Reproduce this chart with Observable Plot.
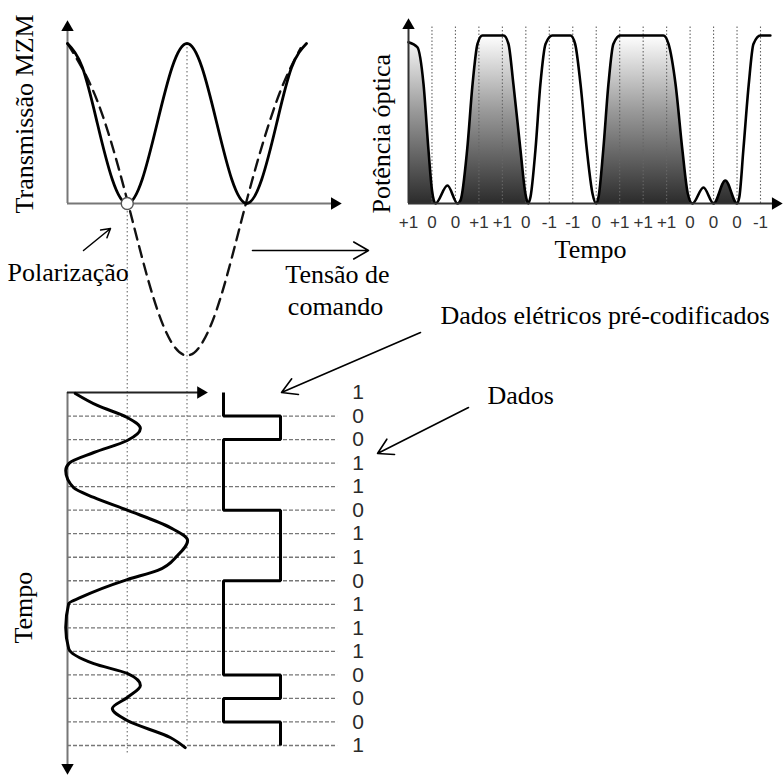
<!DOCTYPE html>
<html>
<head>
<meta charset="utf-8">
<script src="https://cdn.jsdelivr.net/npm/d3@7"></script>
<script src="https://cdn.jsdelivr.net/npm/@observablehq/plot@0.6"></script>
<style>
  html, body { margin: 0; padding: 0; background: #fff; }
  #wrap { width: 784px; height: 776px; overflow: hidden; background: #fff; }
</style>
</head>
<body>
<div id="wrap"></div>
<script>
// ---------------- DATA ----------------
// MZM transfer function (voltage in units of V_pi, normalized transmission)
const mzmVoltage      = [0, 0.25, 0.5, 0.75, 1, 1.25, 1.5, 1.75, 2, 2.25, 2.5, 2.75, 3, 3.25, 3.5, 3.75, 4];
const mzmTransmission = [1, 0.85, 0.5, 0.15, 0, 0.15, 0.5, 0.85, 1, 0.85, 0.5, 0.15, 0, 0.15, 0.5, 0.85, 1];
// dashed drive-swing curve
const swingVoltage = [0, 0.5, 1, 1.5, 2, 2.5, 3, 3.5, 3.9];
const swingLevel   = [1, 0.64, 0.02, -0.66, -0.95, -0.66, 0.02, 0.64, 0.97];
const biasVoltage = 1;
const peakVoltage = 2;

// Electrical drive signal (vertical, time in bit periods)
const driveTime    = [0.04, 0.55, 1.06, 1.53, 2.04, 2.55, 3.0, 3.31, 4.04, 4.46, 5.0, 5.74, 6.29, 6.93, 7.56, 7.95, 8.71, 8.97, 9.99, 10.88, 11.52, 11.94, 12.45, 12.96, 13.43, 13.94, 14.66, 15.09];
const driveVoltage = [0.13, 0.5, 1.0, 1.22, 1.0, 0.44, 0.03, -0.03, 0.1, 0.44, 1.0, 1.72, 2.01, 1.84, 1.51, 1.0, 0.22, 0.02, -0.03, 0.02, 0.44, 1.0, 1.22, 1.0, 0.75, 1.0, 1.72, 1.97];

// Precoded electrical data (one level per bit interval)
const precodedBits = [0, 1, 0, 0, 0, 1, 1, 1, 0, 0, 0, 0, 1, 0, 1];
// Data bits
const dataBits = ["1", "0", "0", "1", "1", "0", "1", "1", "0", "1", "1", "1", "0", "0", "0", "1"];
// Duobinary optical symbols
const duobinaryLabels = ["+1", "0", "0", "+1", "+1", "0", "-1", "-1", "0", "+1", "+1", "+1", "0", "0", "0", "-1"];

// Optical power waveform
const opticalTime  = [0, 0.38, 0.64, 0.85, 1.0, 1.15, 1.66, 2.09, 2.22, 2.5, 2.73, 2.94, 3.15, 4.05, 4.26, 4.47, 4.77, 4.98, 5.1, 5.2, 5.41, 5.62, 5.84, 6.13, 6.9, 7.1, 7.33, 7.6, 7.84, 8.0, 8.1, 8.3, 8.52, 8.73, 9.03, 10.86, 11.08, 11.38, 11.67, 11.9, 12.1, 12.57, 13.0, 13.5, 14.0, 14.1, 14.27, 14.5, 14.7, 15.0, 15.42];
const opticalPower = [0.96, 0.93, 0.71, 0.32, 0.08, 0, 0.107, 0, 0.02, 0.32, 0.71, 0.95, 1, 1, 0.95, 0.71, 0.32, 0.06, 0, 0.04, 0.32, 0.71, 0.95, 1, 1, 0.95, 0.71, 0.32, 0.06, 0, 0.04, 0.32, 0.71, 0.95, 1, 1, 0.95, 0.71, 0.32, 0.06, 0, 0.095, 0, 0.137, 0, 0.04, 0.32, 0.71, 0.95, 1, 1];
const opticalFilled = [1, 1, 1, 1, 1, 1, 0, 0, 1, 1, 1, 1, 1, 1, 1, 1, 1, 1, 1, 0, 0, 0, 0, 0, 0, 0, 0, 0, 0, 0, 1, 1, 1, 1, 1, 1, 1, 1, 1, 1, 1, 0, 0, 1, 1, 0, 0, 0, 0, 0, 0];
const bitBoundaries = d3.range(1, 16);

// ---------------- LAYOUT HELPERS ----------------
const W = 784, H = 776;
const wrap = document.getElementById("wrap");
const SERIF = "Liberation Serif, Times New Roman, serif";
const SANS = "Liberation Sans, Arial, sans-serif";
function panel(opts) {
  return Plot.plot({
    width: W, height: H, margin: 0,
    style: {background: "transparent", overflow: "visible"},
    ...opts
  });
}
const xVolt = {domain: [0, 4], range: [67, 306], axis: null};
const yTime = {domain: [0, 15], range: [392, 745], axis: null};

// ---------------- PANEL B : optical power ----------------
const optical = opticalTime.map((t, i) => ({t, P: opticalPower[i], fill: opticalFilled[i]}));
const svgB = panel({
  x: {domain: [0, 15], range: [408, 760], axis: null},
  y: {domain: [0, 1], range: [203, 35], axis: null},
  marks: [
    Plot.areaY(optical, {x: "t", y: d => d.fill ? d.P : 0, curve: "monotone-x", fill: "url(#duoGrad)"}),
    Plot.ruleX(bitBoundaries, {y1: 0, y2: 1.05, stroke: "#666", strokeDasharray: "1.5,2", strokeWidth: 1.1}),
    Plot.line(optical, {x: "t", y: "P", curve: "monotone-x", stroke: "#000", strokeWidth: 2.6}),
    Plot.ruleY([0], {x1: 0, x2: 15.64, stroke: "#333", strokeWidth: 2}),
    Plot.ruleX([0], {y1: 0, y2: 1.06, stroke: "#333", strokeWidth: 2}),
    Plot.dot([0], {x: 15.64, y: 0, symbol: "triangle", r: 4.6, fill: "#000", stroke: "none", rotate: 90}),
    Plot.dot([0], {x: 0, y: 1.06, symbol: "triangle", r: 4.6, fill: "#000", stroke: "none"}),
    Plot.text(duobinaryLabels, {x: (d, i) => i, y: -0.113, text: d => d, fontSize: 17, fontFamily: SANS, fill: "#333"})
  ]
});
{
  const yB = svgB.scale("y");
  const defs = d3.select(svgB).insert("defs", ":first-child");
  const g = defs.append("linearGradient").attr("id", "duoGrad")
    .attr("gradientUnits", "userSpaceOnUse")
    .attr("x1", 0).attr("x2", 0)
    .attr("y1", yB.apply(0)).attr("y2", yB.apply(1));
  g.append("stop").attr("offset", "0%").attr("stop-color", "#2c2c2c");
  g.append("stop").attr("offset", "55%").attr("stop-color", "#9a9a9a");
  g.append("stop").attr("offset", "100%").attr("stop-color", "#ffffff");
}

// ---------------- PANEL A : MZM transfer ----------------
const mzm = mzmVoltage.map((v, i) => ({v, T: mzmTransmission[i]}));
const swing = swingVoltage.map((v, i) => ({v, T: swingLevel[i]}));
const svgA = panel({
  x: xVolt,
  y: {domain: [0, 1], range: [203, 43], axis: null},
  marks: [
    Plot.ruleX([biasVoltage], {y1: 0, y2: -3.44, stroke: "#777", strokeDasharray: "1.5,2.5", strokeWidth: 1.2}),
    Plot.ruleX([peakVoltage], {y1: 1, y2: -3.36, stroke: "#777", strokeDasharray: "1.5,2.5", strokeWidth: 1.2}),
    Plot.ruleY([0], {x1: 0, x2: 4.47, stroke: "#777", strokeWidth: 2}),
    Plot.ruleX([0], {y1: 0, y2: 1.1, stroke: "#777", strokeWidth: 2}),
    Plot.dot([0], {x: 4.47, y: 0, symbol: "triangle", r: 4.6, fill: "#000", stroke: "none", rotate: 90}),
    Plot.dot([0], {x: 0, y: 1.1, symbol: "triangle", r: 4.6, fill: "#000", stroke: "none"}),
    Plot.line(swing, {x: "v", y: "T", curve: "natural", stroke: "#111", strokeWidth: 2.4, strokeDasharray: "11,7"}),
    Plot.line(mzm, {x: "v", y: "T", curve: "natural", stroke: "#000", strokeWidth: 2.8}),
    Plot.dot([biasVoltage], {x: d => d, y: 0, r: 6, fill: "#fff", stroke: "#555", strokeWidth: 1.4})
  ]
});

// ---------------- PANEL C : electrical drive vs time ----------------
const drive = driveTime.map((t, i) => ({t, v: driveVoltage[i]}));
const svgC = panel({
  x: xVolt,
  y: yTime,
  marks: [
    Plot.ruleY(bitBoundaries, {x1: 0, x2: 4.52, stroke: "#777", strokeDasharray: "4,2", strokeWidth: 1.3}),
    Plot.ruleX([0], {y1: 0, y2: 15.94, stroke: "#777", strokeWidth: 2}),
    Plot.ruleY([0], {x1: 0, x2: 2.23, stroke: "#222", strokeWidth: 2}),
    Plot.dot([0], {x: 2.23, y: 0, symbol: "triangle", r: 4.6, fill: "#000", stroke: "none", rotate: 90}),
    Plot.dot([0], {x: 0, y: 15.94, symbol: "triangle", r: 4.6, fill: "#000", stroke: "none", rotate: 180}),
    Plot.line(drive, {x: "v", y: "t", curve: "monotone-y", stroke: "#000", strokeWidth: 3})
  ]
});

// ---------------- PANEL D : precoded square wave + data ----------------
const square = precodedBits.flatMap((b, k) => [{t: k, lvl: b}, {t: k + 1, lvl: b}]);
const bitRows = dataBits.map((bit, k) => ({bit, k}));
const svgD = panel({
  x: {domain: [0, 1], range: [223, 280], axis: null},
  y: yTime,
  marks: [
    Plot.line(square, {x: "lvl", y: "t", stroke: "#000", strokeWidth: 3, strokeLinejoin: "miter", strokeLinecap: "butt"}),
    Plot.text(bitRows, {x: () => 2.26, y: "k", text: "bit", textAnchor: "start", fontSize: 21, fontFamily: SANS, fill: "#2a2a2a"})
  ]
});

// ---------------- ANNOTATIONS (root svg) ----------------
const txt = {fontFamily: SERIF, fontSize: 26, fill: "#000"};
const root = panel({
  x: {type: "identity"},
  y: {type: "identity"},
  marks: [
    Plot.text(["Transmissão MZM"], {x: 24, y: 213, rotate: -90, textAnchor: "start", ...txt}),
    Plot.text(["Potência óptica"], {x: 381, y: 213, rotate: -90, textAnchor: "start", ...txt}),
    Plot.text(["Tempo"], {x: 23, y: 643, rotate: -90, textAnchor: "start", ...txt}),
    Plot.text(["Tempo"], {x: 590, y: 249, textAnchor: "middle", ...txt}),
    Plot.text(["Polarização"], {x: 7, y: 272, textAnchor: "start", ...txt}),
    Plot.text(["Tensão de"], {x: 337, y: 274, textAnchor: "middle", ...txt}),
    Plot.text(["comando"], {x: 335, y: 306, textAnchor: "middle", ...txt}),
    Plot.text(["Dados elétricos pré-codificados"], {x: 440, y: 315, textAnchor: "start", ...txt}),
    Plot.text(["Dados"], {x: 487, y: 395, textAnchor: "start", ...txt}),
    Plot.arrow([0], {x1: 83, y1: 250, x2: 110, y2: 228, stroke: "#000", strokeWidth: 1.5, headLength: 10}),
    Plot.arrow([0], {x1: 252, y1: 250, x2: 368, y2: 250, stroke: "#000", strokeWidth: 1.6, headLength: 16}),
    Plot.arrow([0], {x1: 420, y1: 332, x2: 281, y2: 392, stroke: "#000", strokeWidth: 1.6, headLength: 16}),
    Plot.arrow([0], {x1: 468, y1: 407, x2: 377, y2: 453, stroke: "#000", strokeWidth: 1.6, headLength: 16})
  ]
});
root.style.background = "#fff";
// nest the panels inside the single root svg, beneath the annotations
const firstMark = root.querySelector(":scope > g") || null;
for (const s of [svgB, svgA, svgC, svgD]) {
  s.setAttribute("x", 0);
  s.setAttribute("y", 0);
  root.insertBefore(s, firstMark);
}
wrap.appendChild(root);
</script>
</body>
</html>
